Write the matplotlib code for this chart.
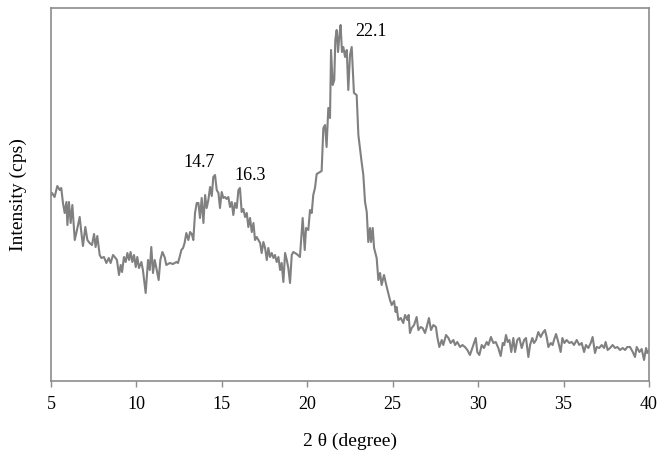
import matplotlib
matplotlib.use("Agg")
import matplotlib.pyplot as plt
import numpy as np

plt.rcParams['font.family'] = ['Liberation Serif', 'DejaVu Serif']

two_theta = [
    5.00, 5.06, 5.21, 5.37, 5.51, 5.60, 5.70, 5.80, 5.90, 5.96, 6.05, 6.15, 6.25, 6.39, 6.52, 6.68, 6.78,
    6.87, 7.01, 7.13, 7.26, 7.40, 7.52, 7.61, 7.71, 7.85, 7.95, 8.10, 8.24, 8.38, 8.49, 8.63, 8.73,
    8.86, 8.98, 9.08, 9.16, 9.27, 9.37, 9.47, 9.57, 9.66, 9.76, 9.86, 9.96, 10.05, 10.15, 10.29, 10.38,
    10.54, 10.68, 10.78, 10.87, 10.97, 11.07, 11.19, 11.30, 11.40, 11.52, 11.65, 11.75, 11.95, 12.14,
    12.34, 12.43, 12.53, 12.63, 12.73, 12.82, 12.92,
    13.04, 13.14, 13.24, 13.33, 13.43, 13.53, 13.63, 13.72, 13.82, 13.92,
    14.02, 14.11, 14.21, 14.31, 14.41, 14.50, 14.60, 14.70, 14.80, 14.89,
    14.99, 15.09, 15.19, 15.28, 15.38, 15.48, 15.58, 15.67, 15.77, 15.87,
    15.97, 16.06, 16.16, 16.26, 16.36, 16.46, 16.55, 16.65, 16.75, 16.85,
    16.94, 17.04, 17.14, 17.24, 17.33, 17.43, 17.53, 17.63, 17.72, 17.82,
    17.92, 18.02, 18.11, 18.21, 18.31, 18.41, 18.50, 18.60, 18.70, 18.80, 18.89, 18.99,
    19.09, 19.18, 19.38, 19.57, 19.73, 19.85, 19.93, 20.06, 20.16, 20.26, 20.35, 20.45, 20.55,
    20.74, 20.84, 20.94, 21.04, 21.13, 21.23, 21.33, 21.39, 21.49, 21.58, 21.64, 21.72, 21.80,
    21.88, 21.95, 22.03, 22.11, 22.21, 22.31, 22.40, 22.50, 22.60, 22.73, 22.89, 22.99, 23.18,
    23.28, 23.38, 23.48, 23.57, 23.67, 23.73, 23.83, 23.91, 24.06,
    24.16, 24.26, 24.35, 24.49, 24.65, 24.84, 24.94, 25.08, 25.17, 25.23,
    25.33, 25.47, 25.62, 25.72, 25.86, 25.93, 26.01, 26.11, 26.25, 26.40,
    26.50, 26.64, 26.75, 26.89, 26.99, 27.12, 27.24, 27.38, 27.53, 27.61,
    27.73, 27.87, 27.96, 28.12, 28.26, 28.39, 28.55, 28.65, 28.78, 28.94,
    29.08, 29.23, 29.37, 29.52, 29.68, 29.86, 29.95, 30.07, 30.21, 30.34,
    30.50, 30.60, 30.75, 30.89, 31.03, 31.18, 31.32, 31.44, 31.53, 31.63,
    31.73, 31.83, 31.94, 32.06, 32.16, 32.29, 32.41, 32.55, 32.69, 32.80,
    32.94, 33.04, 33.17, 33.27, 33.39, 33.52, 33.66, 33.78, 33.91, 34.01,
    34.11, 34.25, 34.36, 34.44, 34.56, 34.69, 34.83, 34.93, 35.05, 35.18,
    35.34, 35.48, 35.61, 35.77, 35.92, 36.06, 36.20, 36.31, 36.45, 36.59,
    36.70, 36.84, 36.94, 37.09, 37.23, 37.37, 37.46, 37.58, 37.72, 37.87,
    38.01, 38.15, 38.30, 38.46, 38.60, 38.73, 38.89, 39.05, 39.18, 39.28,
    39.44, 39.57, 39.71, 39.83, 39.90, 40.00,
]

intensity = [
    186, 188, 184, 195, 191, 193, 178, 168, 179, 156, 179, 158, 176, 141, 151, 164, 148,
    135, 154, 141, 138, 136, 147, 134, 145, 126, 123, 124, 118, 123, 118, 126, 124,
    121, 106, 116, 109, 124, 119, 128, 121, 129, 119, 126, 114, 124, 113, 119, 111,
    88, 121, 111, 134, 108, 121, 111, 101, 121, 129, 124, 116, 118, 117,
    119, 118, 124, 131, 133, 138, 148,
    141, 149, 147, 141, 168, 178, 178, 163, 183, 158,
    186, 173, 181, 194, 185, 204, 206, 191, 188, 173,
    189, 183, 184, 182, 184, 174, 179, 166, 178, 173,
    191, 193, 169, 172, 164, 168, 154, 163, 149, 158,
    141, 144, 141, 138, 128, 139, 133, 121, 133, 124,
    128, 123, 126, 119, 124, 111, 118, 99, 128, 121, 113, 98,
    126, 129, 127, 124, 163, 131, 153, 151, 171, 168, 186, 193, 207,
    209, 210, 253, 256, 234, 273, 263, 331, 296, 301, 341, 351, 329,
    346, 356, 329, 334, 324, 331, 291, 326, 334, 288, 286, 246, 219,
    206, 179, 169, 139, 153, 139, 153, 133, 123,
    101, 108, 96, 106, 94, 81, 76, 80, 69, 74,
    61, 63, 58, 66, 61, 66, 48, 53, 56, 64,
    51, 54, 53, 48, 54, 63, 51, 56, 54, 44,
    34, 41, 36, 46, 43, 38, 41, 36, 39, 34,
    36, 34, 31, 26, 34, 43, 29, 26, 36, 33,
    39, 36, 44, 38, 39, 33, 25, 38, 36, 46,
    39, 41, 29, 43, 29, 41, 43, 33, 41, 43,
    24, 36, 43, 38, 41, 49, 44, 48, 51, 44,
    34, 38, 36, 41, 47, 39, 29, 43, 38, 41,
    38, 39, 36, 41, 36, 38, 29, 36, 33, 38,
    44, 28, 34, 33, 36, 33, 39, 31, 33, 36,
    33, 34, 31, 33, 31, 34, 34, 29, 24, 34,
    29, 32, 21, 33, 28, 31,
]

peak_labels = ["14.7", "16.3", "22.1"]
peak_label_x = [13.66, 16.65, 23.73]
peak_label_y = [214, 201, 345]

x_ticks = [5, 10, 15, 20, 25, 30, 35, 40]

fig = plt.figure(figsize=(6.65, 4.58), dpi=100)
ax = fig.add_axes([51 / 665, 77 / 458, 598 / 665, 373 / 458])

ax.plot(two_theta, intensity, color='#808080', linewidth=1.5, solid_joinstyle='round')

for lab, lx, ly in zip(peak_labels, peak_label_x, peak_label_y):
    ax.text(lx, ly, lab, ha='center', va='baseline', fontsize=13, color='black')

ax.set_xlim(5, 40)
ax.set_ylim(0, 373)
ax.set_xticks(x_ticks)
ax.set_xticklabels([str(t) for t in x_ticks], fontsize=13)
ax.set_yticks([])

for sp in ax.spines.values():
    sp.set_color('#8c8c8c')
    sp.set_linewidth(1.2)

ax.tick_params(axis='x', direction='out', length=4, width=1, color='#8c8c8c', pad=7, labelcolor='black')

ax.set_xlabel('2 θ (degree)', fontsize=14, labelpad=14)
ax.set_ylabel('Intensity (cps)', fontsize=14, labelpad=17)

fig.savefig('out.png', dpi=100)
